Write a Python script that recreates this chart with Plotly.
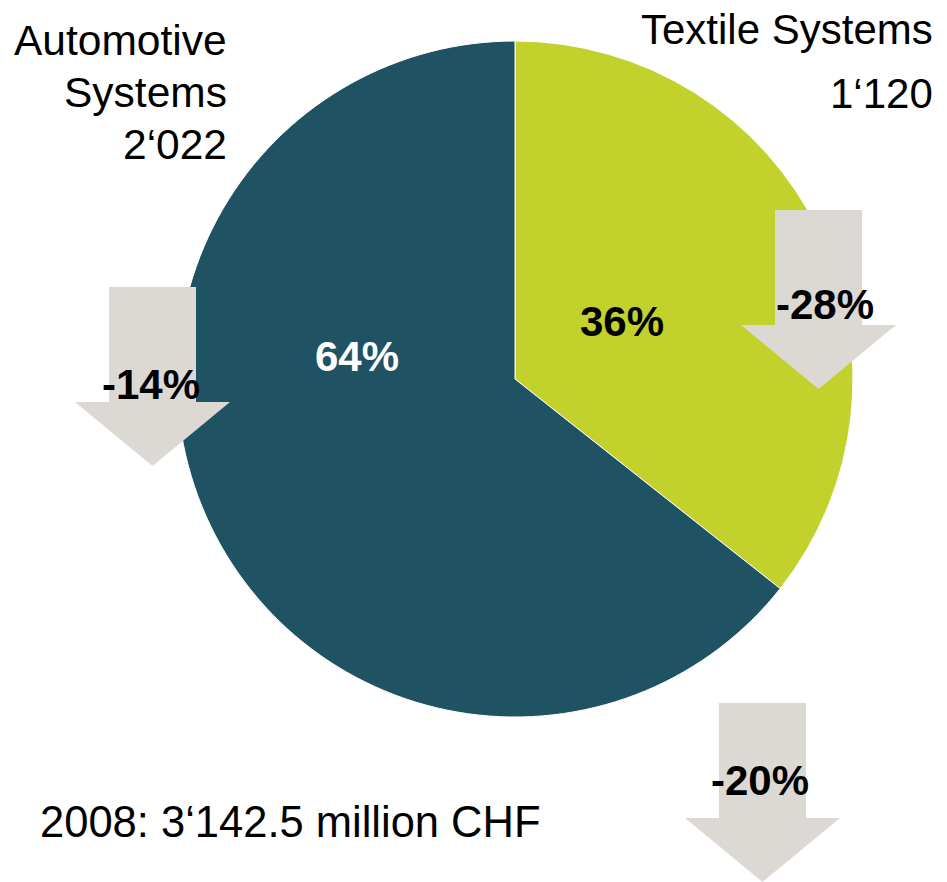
import plotly.graph_objects as go

# ---- data ----
segments = ["Textile Systems", "Automotive Systems"]
sales = [1120, 2022]
value_labels = ["1‘120", "2‘022"]
changes = [-28, -14, -20]          # Textile, Automotive, Total
total_label = "2008: 3‘142.5 million CHF"

colors = ["#C2D12B", "#1F5263"]
arrow_color = "#DCD9D5"
W, H = 947, 882
FONT = "Liberation Sans, Arial, sans-serif"

fig = go.Figure()

# pie: centre (515, 379), radius 338 px
cx, cy, r = 515, 379, 338
fig.add_trace(go.Pie(
    labels=segments, values=sales, sort=False, direction="clockwise",
    rotation=0, textinfo="none", hoverinfo="label+value+percent",
    marker=dict(colors=colors, line=dict(color="white", width=1)),
    domain=dict(x=[(cx - r) / W, (cx + r) / W],
                y=[(H - cy - r) / H, (H - cy + r) / H]),
    showlegend=False,
))

# hidden pixel axes for shapes/annotations
fig.update_xaxes(range=[0, W], visible=False, fixedrange=True)
fig.update_yaxes(range=[H, 0], visible=False, fixedrange=True)
fig.add_trace(go.Scatter(x=[0], y=[0], mode="markers", marker=dict(opacity=0),
                         showlegend=False, hoverinfo="skip"))

# arrows: (centre x, top y) and label centre
arrow_pos = [(818.5, 210), (152.5, 287), (762.5, 703)]
label_pos = [(825, 304), (151, 384), (760, 780)]
shaft_w, head_w, shaft_len, head_len = 87, 155, 115, 64
for (ax, top), (lx, ly), ch in zip(arrow_pos, label_pos, changes):
    sl, sr = ax - shaft_w / 2, ax + shaft_w / 2
    hl, hr = ax - head_w / 2, ax + head_w / 2
    sb = top + shaft_len
    tip = sb + head_len
    path = (f"M{sl},{top} L{sr},{top} L{sr},{sb} L{hr},{sb} "
            f"L{ax},{tip} L{hl},{sb} L{sl},{sb} Z")
    fig.add_shape(type="path", path=path, xref="x", yref="y",
                  fillcolor=arrow_color, line=dict(width=0), layer="above")
    fig.add_annotation(x=lx, y=ly, xref="x", yref="y",
                       text=f"<b>{ch}%</b>", showarrow=False,
                       font=dict(family=FONT, size=42, color="black"),
                       xanchor="center", yanchor="middle")

# percentage labels
tot = sum(sales)
pct = [round(v / tot * 100) for v in sales]
fig.add_annotation(x=622, y=321, xref="x", yref="y", text=f"<b>{pct[0]}%</b>",
                   showarrow=False, font=dict(family=FONT, size=42, color="black"),
                   xanchor="center", yanchor="middle")
fig.add_annotation(x=357, y=356, xref="x", yref="y", text=f"<b>{pct[1]}%</b>",
                   showarrow=False, font=dict(family=FONT, size=42, color="white"),
                   xanchor="center", yanchor="middle")

# segment labels (one annotation per line for exact spacing)
auto_lines = ["Automotive", "Systems", value_labels[1]]
for i, t in enumerate(auto_lines):
    fig.add_annotation(x=229, y=40 + i * 52, xref="x", yref="y", text=t,
                       showarrow=False, font=dict(family=FONT, size=42.5, color="black"),
                       xanchor="right", yanchor="middle")
tex_lines = ["Textile Systems", value_labels[0]]
for i, t in enumerate(tex_lines):
    fig.add_annotation(x=935, y=29 + i * 64, xref="x", yref="y", text=t,
                       showarrow=False, font=dict(family=FONT, size=42, color="black"),
                       xanchor="right", yanchor="middle")

fig.add_annotation(x=38, y=822, xref="x", yref="y", text=total_label,
                   showarrow=False, font=dict(family=FONT, size=43.5, color="black"),
                   xanchor="left", yanchor="middle")

fig.update_layout(width=W, height=H, margin=dict(l=0, r=0, t=0, b=0),
                  paper_bgcolor="white", plot_bgcolor="white")
fig.write_html("out.html")
